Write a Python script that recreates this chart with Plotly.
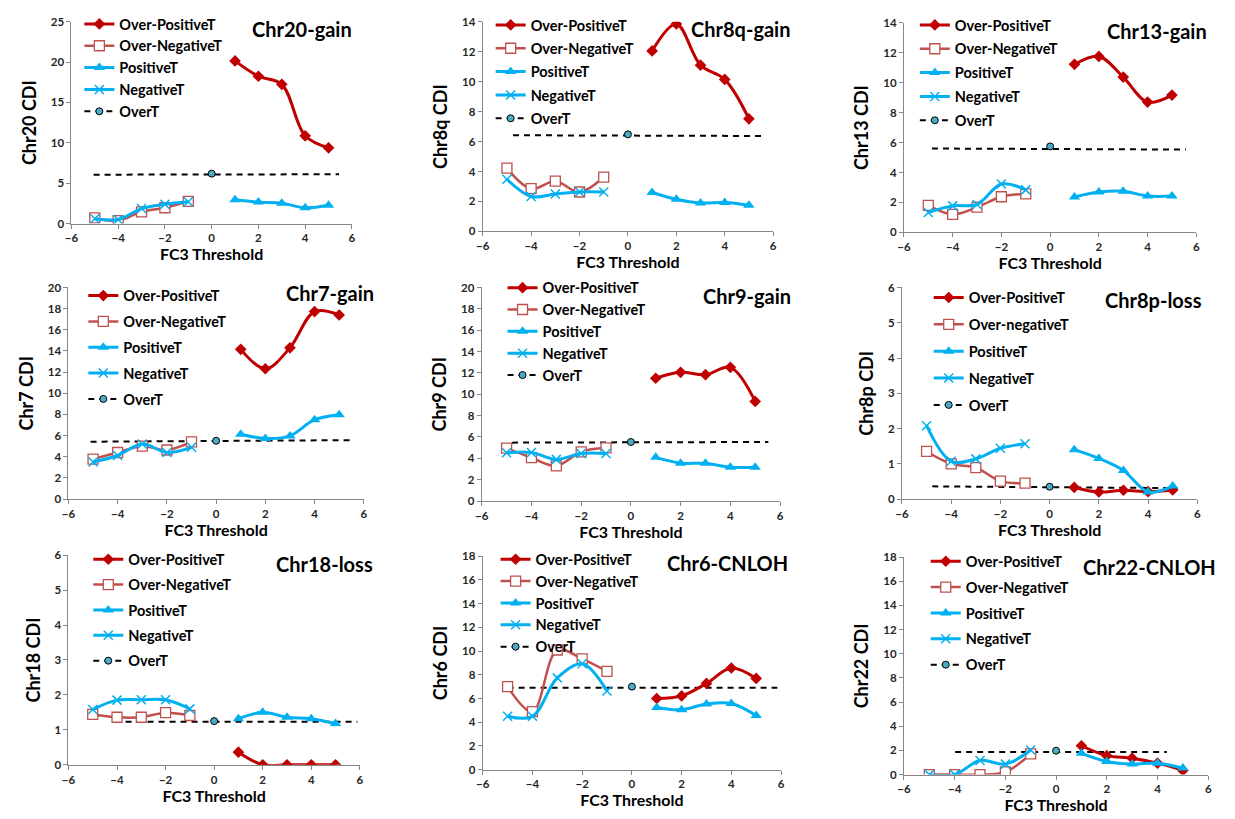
import plotly.graph_objects as go

W, H = 1235, 819
FONT = "Lato, 'Open Sans', sans-serif"

x_neg = [-5, -4, -3, -2, -1]
x_pos = [1, 2, 3, 4, 5]
x_over = [0]

# ---- Chr20-gain
chr20_over_pos = [20.15, 18.25, 17.25, 10.87, 9.38]
chr20_over_neg = [0.69, 0.35, 1.45, 1.95, 2.75]
chr20_pos = [2.93, 2.65, 2.52, 1.95, 2.26]
chr20_neg = [0.6, 0.5, 1.85, 2.38, 2.7]
chr20_overT = [6.18]
chr20_overT_line_x = [-5.05, 5.45]
chr20_overT_line_y = [6.05, 6.1]

# ---- Chr8q-gain
chr8q_over_pos = [12.05, 13.85, 11.1, 10.15, 7.52]
chr8q_over_neg = [4.22, 2.85, 3.35, 2.63, 3.63]
chr8q_pos = [2.6, 2.15, 1.9, 1.93, 1.75]
chr8q_neg = [3.48, 2.33, 2.5, 2.63, 2.63]
chr8q_overT = [6.48]
chr8q_overT_line_x = [-4.75, 5.65]
chr8q_overT_line_y = [6.42, 6.37]

# ---- Chr13-gain
chr13_over_pos = [11.22, 11.75, 10.37, 8.7, 9.17]
chr13_over_neg = [1.8, 1.2, 1.68, 2.38, 2.57]
chr13_pos = [2.36, 2.69, 2.75, 2.43, 2.43]
chr13_neg = [1.33, 1.77, 1.86, 3.23, 2.84]
chr13_overT = [5.74]
chr13_overT_line_x = [-4.85, 5.57]
chr13_overT_line_y = [5.6, 5.53]

# ---- Chr7-gain
chr7_over_pos = [14.15, 12.32, 14.3, 17.72, 17.4]
chr7_over_neg = [3.78, 4.4, 5.0, 4.64, 5.4]
chr7_pos = [6.13, 5.73, 5.97, 7.5, 7.98]
chr7_neg = [3.5, 4.12, 5.2, 4.4, 4.89]
chr7_overT = [5.51]
chr7_overT_line_x = [-5.1, 5.57]
chr7_overT_line_y = [5.42, 5.57]

# ---- Chr9-gain
chr9_over_pos = [11.5, 12.05, 11.83, 12.52, 9.33]
chr9_over_neg = [4.95, 4.06, 3.29, 4.61, 4.98]
chr9_pos = [4.09, 3.55, 3.53, 3.16, 3.16]
chr9_neg = [4.52, 4.55, 3.9, 4.45, 4.45]
chr9_overT = [5.53]
chr9_overT_line_x = [-4.78, 5.53]
chr9_overT_line_y = [5.47, 5.53]

# ---- Chr8p-loss
chr8p_over_pos = [0.33, 0.2, 0.25, 0.21, 0.26]
chr8p_over_neg = [1.35, 1.0, 0.89, 0.51, 0.45]
chr8p_pos = [1.4, 1.15, 0.81, 0.2, 0.37]
chr8p_neg = [2.08, 1.07, 1.14, 1.44, 1.57]
chr8p_overT = [0.35]
chr8p_overT_line_x = [-4.77, 5.2]
chr8p_overT_line_y = [0.36, 0.31]

# ---- Chr18-loss
chr18_over_pos = [0.36, 0.0, 0.0, 0.0, 0.0]
chr18_over_neg = [1.44, 1.36, 1.36, 1.49, 1.41]
chr18_pos = [1.32, 1.5, 1.36, 1.32, 1.18]
chr18_neg = [1.58, 1.85, 1.86, 1.86, 1.6]
chr18_overT = [1.25]
chr18_overT_line_x = [-4.1, 5.9]
chr18_overT_line_y = [1.23, 1.23]

# ---- Chr6-CNLOH
chr6_over_pos = [6.0, 6.22, 7.27, 8.57, 7.69]
chr6_over_neg = [7.0, 4.89, 10.09, 9.34, 8.29]
chr6_pos = [5.25, 5.06, 5.53, 5.58, 4.56]
chr6_neg = [4.5, 4.5, 7.74, 8.93, 6.64]
chr6_overT = [7.0]
chr6_overT_line_x = [-5.0, 5.85]
chr6_overT_line_y = [6.9, 6.9]

# ---- Chr22-CNLOH
chr22_over_pos = [2.39, 1.57, 1.36, 0.95, 0.35]
chr22_over_neg = [0.0, 0.0, 0.0, 0.22, 1.71]
chr22_pos = [1.76, 1.09, 0.87, 0.95, 0.54]
chr22_neg = [0.0, 0.0, 1.17, 0.87, 2.04]
chr22_overT = [1.98]
chr22_overT_line_x = [-3.98, 4.37]
chr22_overT_line_y = [1.87, 1.87]

series_names = ["Over-PositiveT", "Over-NegativeT", "PositiveT", "NegativeT", "OverT"]
x_ticks = [-6, -4, -2, 0, 2, 4, 6]

panels = [
    dict(title="Chr20-gain", ylab="Chr20 CDI", ymax=25, dtick=5,
         op=chr20_over_pos, on=chr20_over_neg, p=chr20_pos, n=chr20_neg,
         ot=chr20_overT, lx=chr20_overT_line_x, ly=chr20_overT_line_y, neg_name="Over-NegativeT"),
    dict(title="Chr8q-gain", ylab="Chr8q CDI", ymax=14, dtick=2,
         op=chr8q_over_pos, on=chr8q_over_neg, p=chr8q_pos, n=chr8q_neg,
         ot=chr8q_overT, lx=chr8q_overT_line_x, ly=chr8q_overT_line_y, neg_name="Over-NegativeT"),
    dict(title="Chr13-gain", ylab="Chr13 CDI", ymax=14, dtick=2,
         op=chr13_over_pos, on=chr13_over_neg, p=chr13_pos, n=chr13_neg,
         ot=chr13_overT, lx=chr13_overT_line_x, ly=chr13_overT_line_y, neg_name="Over-NegativeT"),
    dict(title="Chr7-gain", ylab="Chr7 CDI", ymax=20, dtick=2,
         op=chr7_over_pos, on=chr7_over_neg, p=chr7_pos, n=chr7_neg,
         ot=chr7_overT, lx=chr7_overT_line_x, ly=chr7_overT_line_y, neg_name="Over-NegativeT"),
    dict(title="Chr9-gain", ylab="Chr9 CDI", ymax=20, dtick=2,
         op=chr9_over_pos, on=chr9_over_neg, p=chr9_pos, n=chr9_neg,
         ot=chr9_overT, lx=chr9_overT_line_x, ly=chr9_overT_line_y, neg_name="Over-NegativeT"),
    dict(title="Chr8p-loss", ylab="Chr8p CDI", ymax=6, dtick=1,
         op=chr8p_over_pos, on=chr8p_over_neg, p=chr8p_pos, n=chr8p_neg,
         ot=chr8p_overT, lx=chr8p_overT_line_x, ly=chr8p_overT_line_y, neg_name="Over-negativeT"),
    dict(title="Chr18-loss", ylab="Chr18 CDI", ymax=6, dtick=1,
         op=chr18_over_pos, on=chr18_over_neg, p=chr18_pos, n=chr18_neg,
         ot=chr18_overT, lx=chr18_overT_line_x, ly=chr18_overT_line_y, neg_name="Over-NegativeT"),
    dict(title="Chr6-CNLOH", ylab="Chr6 CDI", ymax=18, dtick=2,
         op=chr6_over_pos, on=chr6_over_neg, p=chr6_pos, n=chr6_neg,
         ot=chr6_overT, lx=chr6_overT_line_x, ly=chr6_overT_line_y, neg_name="Over-NegativeT"),
    dict(title="Chr22-CNLOH", ylab="Chr22 CDI", ymax=18, dtick=2,
         op=chr22_over_pos, on=chr22_over_neg, p=chr22_pos, n=chr22_neg,
         ot=chr22_overT, lx=chr22_overT_line_x, ly=chr22_overT_line_y, neg_name="Over-NegativeT"),
]

# layout geometry (pixels): plot area boxes, legend anchors, title anchors
boxes = [(65, 348, 15, 220), (480, 773, 15, 228), (905, 1200, 16, 229),
         (62, 360, 285, 500), (479, 780, 285, 502), (903, 1201, 285, 500),
         (62, 356, 557, 770), (480, 781, 558, 775), (905, 1212, 559, 780)]
legend_pos = [(73, 1, 0), (488, 2, 1.5), (916, 2, 2),
              (77, 277, 4), (500, 269, 0), (930, 279, 5),
              (82, 545, 3.5), (493, 545, 0), (927, 547, 4)]
title_pos = [(350, 22), (792, 22), (1213, 24), (372, 291), (793, 294),
             (1208, 298), (371, 566), (790, 565), (1222, 569)]

C_OP = "#C00000"
C_ON = "#C0504D"
C_B = "#00B0F0"
TICK_COLOR = "#262626"

fig = go.Figure()
layout = dict(width=W, height=H, margin=dict(l=0, r=0, t=0, b=0),
              paper_bgcolor="white", plot_bgcolor="white",
              font=dict(family=FONT, weight="bold", color="#000000"),
              annotations=[])

for i, pnl in enumerate(panels):
    k = i + 1
    sx = "" if k == 1 else str(k)
    xa, ya = "x" + sx, "y" + sx
    lg = "legend" + sx
    x0, x1, y0, y1 = boxes[i]
    layout["xaxis" + sx] = dict(
        domain=[x0 / W, x1 / W], anchor=ya, range=[-6, 6], tickvals=x_ticks,
        showgrid=False, zeroline=False, showline=True, linecolor="#868686", linewidth=1,
        ticks="outside", ticklen=4, tickcolor="#868686",
        tickfont=dict(family=FONT, size=11.5, color=TICK_COLOR, weight="bold"),
        title=dict(text="FC3 Threshold", standoff=0,
                   font=dict(family=FONT, size=16, color="#000000", weight="bold")))
    layout["yaxis" + sx] = dict(
        domain=[1 - y1 / H, 1 - y0 / H], anchor=xa, range=[0, pnl["ymax"]], dtick=pnl["dtick"],
        showgrid=False, zeroline=False, showline=True, linecolor="#868686", linewidth=1,
        ticks="outside", ticklen=4, tickcolor="#868686",
        tickfont=dict(family=FONT, size=11.5, color=TICK_COLOR, weight="bold"),
        title=dict(text=pnl["ylab"], standoff=9,
                   font=dict(family=FONT, size=18, color="#000000", weight="bold")))
    lx, ly, gap = legend_pos[i]
    layout[lg] = dict(x=lx / W, y=1 - ly / H, xanchor="left", yanchor="top",
                      bgcolor="rgba(0,0,0,0)", borderwidth=0, traceorder="grouped",
                      tracegroupgap=gap, itemwidth=30,
                      font=dict(family=FONT, size=14.5, color="#000000", weight="bold"))
    tx, ty = title_pos[i]
    layout["annotations"].append(dict(
        text=pnl["title"], xref="paper", yref="paper", x=tx / W, y=1 - ty / H,
        xanchor="right", yanchor="middle", showarrow=False,
        font=dict(family=FONT, size=20, color="#000000", weight="bold")))

    common = dict(xaxis=xa, yaxis=ya, legend=lg)
    # OverT dashed reference line (no legend entry)
    fig.add_trace(go.Scatter(x=pnl["lx"], y=pnl["ly"], mode="lines",
                             line=dict(color="#000000", width=2, dash="6px,5px"),
                             showlegend=False, hoverinfo="skip", **common))
    fig.add_trace(go.Scatter(x=x_pos, y=pnl["op"], name=series_names[0], legendgroup=f"g{k}a",
                             mode="lines+markers", line=dict(color=C_OP, width=3, shape="spline"),
                             marker=dict(symbol="diamond", size=9, color=C_OP), **common))
    fig.add_trace(go.Scatter(x=x_neg, y=pnl["on"], name=pnl["neg_name"], legendgroup=f"g{k}b",
                             mode="lines+markers", line=dict(color=C_ON, width=2.5, shape="spline"),
                             marker=dict(symbol="square", size=10, color="white",
                                         line=dict(color=C_ON, width=1.3)), **common))
    fig.add_trace(go.Scatter(x=x_pos, y=pnl["p"], name=series_names[2], legendgroup=f"g{k}c",
                             mode="lines+markers", line=dict(color=C_B, width=3, shape="spline"),
                             marker=dict(symbol="triangle-up", size=10, color=C_B), **common))
    fig.add_trace(go.Scatter(x=x_neg, y=pnl["n"], name=series_names[3], legendgroup=f"g{k}d",
                             mode="lines+markers", line=dict(color=C_B, width=3, shape="spline"),
                             marker=dict(symbol="x-thin", size=9, color=C_B,
                                         line=dict(color=C_B, width=1.5)), **common))
    fig.add_trace(go.Scatter(x=x_over, y=pnl["ot"], name=series_names[4], legendgroup=f"g{k}e",
                             mode="lines+markers", line=dict(color="#000000", width=2, dash="6px,5px"),
                             marker=dict(symbol="circle", size=7, color="#4BACC6",
                                         line=dict(color="#000000", width=1)), **common))

fig.update_layout(**layout)
fig.write_html("out.html",
               post_script="document.body.style.margin='0';document.body.style.overflow='hidden';")
